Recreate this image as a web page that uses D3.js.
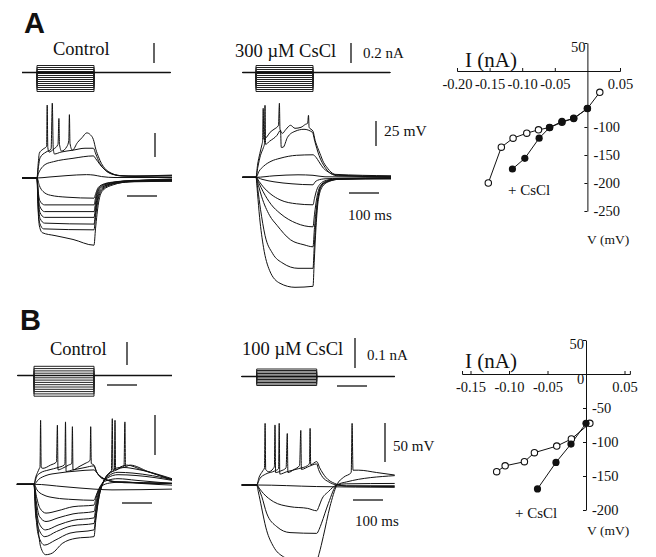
<!DOCTYPE html>
<html>
<head>
<meta charset="utf-8">
<script src="https://cdn.jsdelivr.net/npm/d3@7"></script>
<style>
  body { margin: 0; background: #fff; }
  text { font-family: "Liberation Serif", "Times New Roman", serif; fill: #111; }
  .panel-letter { font-family: "Liberation Sans", Arial, sans-serif; font-weight: bold; }
  .axis path, .axis line { stroke: #111; stroke-width: 1; }
  .axis text { font-family: "Liberation Serif", serif; font-size: 14.5px; }
</style>
</head>
<body>
<div id="fig"></div>
<script>
// ---------- data ----------
// current steps (nA)
var stepsA = [0.07, 0.05, 0.03, 0.01, -0.01, -0.03, -0.05, -0.07, -0.09, -0.11, -0.13, -0.15, -0.17, -0.19];
var stepsB_ctrl = [0.04, 0.03, 0.02, 0.01, -0.01, -0.02, -0.03, -0.04, -0.05, -0.06, -0.07, -0.08, -0.09];
var stepsB_cs = [0.025, 0.02, 0.015, 0.01, 0.005, -0.005, -0.01, -0.015, -0.02, -0.025, -0.03];
var stepDurA = 190, stepDurB = 200;   // ms

// voltage traces: [time ms from step onset, deflection mV from rest]
var tracesA_ctrl = [
  [[-50,0],[0,0],[8,-8],[20,-14],[45,-18],[100,-20],[190,-21],[196,-16],[204,-10],[225,-6],[260,-4],[320,-2.5],[450,-2]],
  [[-50,0],[0,0],[4,-14],[10,-24],[25,-28],[190,-28],[195,-21],[202,-13],[215,-8],[245,-5],[310,-3],[450,-1.5]],
  [[-50,0],[0,0],[4,-18],[10,-30],[25,-35],[190,-35],[195,-26],[202,-15],[215,-9],[245,-5.5],[310,-3],[450,-2.5]],
  [[-50,0],[0,0],[4,-21],[10,-36],[25,-41],[190,-41],[195,-31],[203,-17],[216,-10],[248,-6],[310,-3.5],[450,-1]],
  [[-50,0],[0,0],[4,-24],[10,-42],[25,-47],[190,-48],[195,-36],[203,-20],[217,-11],[250,-6],[310,-3.5],[450,-3]],
  [[-50,0],[0,0],[3,-25],[9,-47],[22,-53],[190,-54],[195,-41],[204,-22],[218,-12],[252,-6.5],[310,-4],[450,-2]],
  [[-50,0],[0,0],[3,-28],[8,-50],[18,-57],[60,-60],[120,-64],[190,-70],[195,-53],[205,-26],[219,-13],[255,-7],[310,-4],[450,-3.5]],
  [[-50,0],[0,0],[40,1],[100,2.5],[165,3.5],[190,3],[215,1.5],[260,0.5],[450,0.5]],
  [[-50,0],[0,0],[5,5],[12,9],[27,14],[55,17],[120,20.5],[188,23],[196,20],[210,14],[228,8],[245,5],[277,2.5],[330,1.5],[450,1]],
  [[-50,0],[0,0],[4,15],[8,26],[20,30],[32,33],[34,76],[36,32],[40,27],[55,30],[70,35],[73,62],[75,35],[82,28],[100,33],[106,39],[108,66],[110,36],[118,29],[135,37],[150,42],[166,47],[178,45],[188,40],[196,30],[205,22],[215,15],[226,10],[248,5],[277,2.5],[330,2],[450,2.5]],
  [[-50,0],[0,0],[5,12],[10,21],[30,27],[47,30],[51,78],[54,32],[58,25],[80,27],[120,29],[160,31],[188,31],[196,25],[208,16],[225,9],[250,4],[290,2],[450,3]]
];
var tracesA_cs = [
  [[-45,0],[0,0],[20,-2],[60,-4.5],[120,-6.5],[190,-7.5],[196,-5],[205,-3],[230,-1.5],[280,-1],[450,-0.5]],
  [[-45,0],[0,0],[10,-4],[24,-9.5],[50,-17],[80,-22.5],[135,-26.5],[190,-27.5],[195,-21],[202,-13],[213,-7],[235,-3],[270,-1.5],[450,-1]],
  [[-45,0],[0,0],[10,-6],[24,-14.5],[50,-27],[80,-36],[135,-46],[190,-49.5],[195,-37],[203,-20],[214,-9],[237,-3.5],[270,-1.5],[450,-1.5]],
  [[-45,0],[0,0],[8,-8],[19,-19.5],[45,-38],[70,-48],[115,-62.5],[160,-67.5],[190,-69.5],[195,-50],[204,-25],[215,-10],[238,-4],[272,-2],[450,-0.5]],
  [[-45,0],[0,0],[6,-12],[15,-32],[30,-58],[55,-76],[90,-86],[140,-91],[190,-91],[194,-70],[200,-42],[208,-18],[220,-8],[242,-4],[275,-2],[450,-1]],
  [[-45,0],[0,0],[5,-16],[12,-40],[25,-70],[45,-93],[80,-106],[130,-110],[190,-109],[194,-85],[200,-50],[208,-22],[222,-9],[245,-4],[278,-2],[450,-1.5]],
  [[-45,0],[0,0],[60,1.5],[140,2.5],[190,2],[230,0.5],[450,0.3]],
  [[-45,0],[0,0],[10,6],[25,11],[50,16],[80,19],[135,22],[190,22.5],[200,20],[210,15.5],[225,9],[240,5.5],[270,1.5],[450,0.5]],
  [[-45,0],[0,0],[5,12],[13,24],[20,33],[22,36],[24,69],[26,38],[35,40],[47,45],[60,48],[75,52],[78,74],[80,48],[88,44],[100,48],[115,52],[130,49],[150,50],[165,53],[172,54],[175,62],[177,50],[190,46],[197,37],[205,30],[213,24],[225,15],[235,10.5],[255,4],[275,2],[450,1]],
  [[-45,0],[0,0],[6,10],[15,22],[25,30],[28,33],[30,72],[32,33],[45,36],[70,42],[82,47],[84,30],[90,30],[105,40],[130,46],[160,48],[188,45],[196,36],[210,22],[230,10],[260,3],[450,1.5]]
];
var tracesB_ctrl = [
  [[-57,0],[0,0],[100,-3],[200,-6],[260,-7],[460,-6]],
  [[-57,0],[0,0],[10,-7],[30,-13],[70,-17],[130,-19],[200,-20],[207,-14],[215,-7],[230,-1],[260,2],[300,3],[360,1],[460,-1]],
  [[-57,0],[0,0],[8,-15],[20,-30],[40,-36],[80,-33],[130,-28],[200,-26],[206,-18],[214,-8],[225,0],[245,5],[280,7],[340,5],[460,1]],
  [[-57,0],[0,0],[7,-20],[18,-40],[40,-46.5],[80,-42],[130,-37],[200,-34],[206,-24],[214,-11],[226,0],[245,8],[280,12],[340,11],[460,5]],
  [[-57,0],[0,0],[6,-24],[16,-48],[38,-57],[80,-51],[130,-45],[200,-42],[206,-30],[215,-13],[227,0],[247,10],[280,15],[330,14],[460,6]],
  [[-57,0],[0,0],[6,-28],[15,-55],[36,-65.5],[75,-59],[125,-52],[200,-49],[206,-35],[215,-15],[228,0],[248,12],[275,18],[300,21],[340,19],[460,7]],
  [[-57,0],[0,0],[5,-32],[14,-63],[35,-76],[70,-70],[120,-61],[200,-57],[206,-41],[216,-17],[228,0],[250,14],[268,18],[270,80],[272,18],[290,22],[310,24],[360,18],[460,6]],
  [[-57,0],[0,0],[5,-36],[11,-49],[22,-78],[39,-88],[61,-86],[94,-74],[140,-67.5],[200,-65.4],[206,-45],[217,-15.4],[228,0],[244,11.6],[258,17],[261,82],[263,18],[272,20],[300,22],[303,78],[305,22],[320,24],[380,16],[460,5.4]],
  [[-57,0],[0,0],[15,6],[40,11],[80,14],[140,16.5],[200,18],[210,14],[225,9],[245,5],[280,3],[460,1]],
  [[-57,0],[0,0],[5,8],[12,15],[18,20],[20,22],[22,80],[24,21],[30,20],[55,24],[75,28],[78,74],[80,18],[95,20],[115,24],[126,26],[128,72],[130,18],[150,22],[170,26],[187,30],[189,72],[191,26],[200,24],[208,16],[218,10],[235,6],[260,4],[300,2],[460,1]],
  [[-57,0],[0,0],[8,9],[20,14],[50,18],[80,21],[100,24],[103,26],[105,78],[107,16],[130,18],[170,21],[200,23],[208,16],[220,10],[240,6],[270,3],[460,1.5]]
];
var tracesB_cs = [
  [[-50,0],[0,0],[200,-2],[460,-3]],
  [[-50,0],[0,0],[10,-5],[22,-10.7],[56,-21.4],[111,-27.8],[170,-30],[200,-33],[208,-27],[216,-19],[239,-8.5],[267,0],[300,1.5],[460,2]],
  [[-50,0],[0,0],[8,-6],[17,-15],[33,-36],[67,-53.4],[111,-61],[200,-62],[208,-57],[216,-49],[239,-23.5],[267,0],[300,4],[460,12]],
  [[-50,0],[0,0],[5,-8],[11,-19],[33,-58],[56,-79],[89,-92],[130,-97],[200,-97],[208,-88],[222,-66],[244,-28],[267,0],[290,10],[315,16],[318,79],[321,19],[340,19],[400,16],[460,12.8]],
  [[-50,0],[0,0],[8,10],[20,18],[26,22],[28,79],[30,20],[40,17],[55,21],[59,24],[61,77],[63,16],[80,18],[98,22],[102,66],[104,16],[125,20],[143,25],[147,70],[149,20],[175,24],[200,27],[206,20],[220,10],[240,4],[267,0],[300,-1],[460,-1]],
  [[-50,0],[0,0],[10,8],[30,14],[60,18],[73,21],[75,79],[77,14],[100,17],[140,21],[170,25],[176,28],[178,72.6],[180,26],[200,30],[210,22],[230,10],[260,2],[300,-1.5],[460,-2]]
];

// I-V relations: [current nA, membrane potential mV]
var ivA_ctrl = [[0.019,-38],[0,-67],[-0.021,-84.5],[-0.039,-91.6],[-0.058,-101],[-0.075,-105],[-0.093,-111],[-0.114,-120],[-0.132,-136],[-0.152,-200]];
var ivA_cs = [[0,-67],[-0.021,-85],[-0.039,-90],[-0.058,-101],[-0.074,-120],[-0.096,-156],[-0.115,-175]];
var ivB_ctrl = [[0.005,-72.5],[-0.019,-95.6],[-0.038,-106],[-0.067,-115.7],[-0.080,-129],[-0.105,-135],[-0.116,-143.7]];
var ivB_cs = [[0,-72.5],[-0.0195,-103],[-0.039,-130],[-0.063,-169]];

var ivA_xticks = [-0.20, -0.15, -0.10, -0.05, 0.05];
var ivA_yticks = [50, -100, -150, -200, -250];
var ivB_xticks = [-0.15, -0.10, -0.05, 0.05];
var ivB_yticks = [50, -50, -100, -150, -200];

// ---------- drawing ----------
var svg = d3.select("#fig").append("svg")
    .attr("width", 656)
    .attr("height", 557);
svg.append("rect").attr("width", 656).attr("height", 557).attr("fill", "#fff");

function label(x, y, txt, size, cls) {
  return svg.append("text").attr("x", x).attr("y", y)
    .attr("class", cls || null)
    .style("font-size", size + "px")
    .text(txt);
}

function vBar(x, y0, y1) {
  svg.append("line").attr("x1", x).attr("x2", x).attr("y1", y0).attr("y2", y1)
    .attr("stroke", "#111").attr("stroke-width", 1.3);
}
function hBar(x0, x1, y) {
  svg.append("line").attr("x1", x0).attr("x2", x1).attr("y1", y).attr("y2", y)
    .attr("stroke", "#111").attr("stroke-width", 1.3);
}

// one recording: current steps on top, voltage responses below
function drawRecording(p) {
  var tx = d3.scaleLinear().domain([0, 100]).range([p.onset, p.onset + 30]);
  var cy = d3.scaleLinear().domain([0, p.iRef]).range([p.iBase, p.iBase - p.iRefPx]);
  var vy = d3.scaleLinear().domain([0, p.vRef]).range([p.vBase, p.vBase - p.vRefPx]);

  // current steps
  var g1 = svg.append("g");
  g1.selectAll("path")
    .data(p.steps)
    .enter()
    .append("path")
      .attr("d", function(I) {
        return d3.line()([[tx(p.t0), cy(0)], [tx(0), cy(0)], [tx(0), cy(I)],
                          [tx(p.dur), cy(I)], [tx(p.dur), cy(0)], [tx(p.t1), cy(0)]]);
      })
      .attr("fill", "none")
      .attr("stroke", "#222")
      .attr("stroke-width", 1);
  g1.append("line")
    .attr("x1", tx(p.t0)).attr("x2", tx(p.t1))
    .attr("y1", cy(0)).attr("y2", cy(0))
    .attr("stroke", "#111").attr("stroke-width", 1.6);

  // voltage traces
  var line = d3.line()
    .x(function(d) { return tx(d[0]); })
    .y(function(d) { return vy(d[1]); })
    .curve(d3.curveMonotoneX);
  svg.append("g").selectAll("path")
    .data(p.traces)
    .enter()
    .append("path")
      .attr("d", line)
      .attr("fill", "none")
      .attr("stroke", "#111")
      .attr("stroke-width", 1);

  // scale bars
  var curLen = cy(0) - cy(p.iRef);
  var vLen = vy(0) - vy(p.vRef);
  var tLen = tx(100) - tx(0);
  vBar(p.iBar[0], p.iBar[1], p.iBar[1] + curLen);
  vBar(p.vBar[0], p.vBar[1], p.vBar[1] + vLen);
  hBar(p.tBar[0], p.tBar[0] + tLen, p.tBar[1]);
  if (p.tBar2) hBar(p.tBar2[0], p.tBar2[0] + tLen, p.tBar2[1]);
}

drawRecording({ onset: 37, t0: -50, t1: 445, dur: stepDurA, steps: stepsA,
  iBase: 72.5, iRef: 0.2, iRefPx: 20, vBase: 178, vRef: 25, vRefPx: 24,
  traces: tracesA_ctrl, iBar: [154, 43], vBar: [155, 133], tBar: [127, 196] });
drawRecording({ onset: 256, t0: -45, t1: 447, dur: stepDurA, steps: stepsA,
  iBase: 72.5, iRef: 0.2, iRefPx: 20, vBase: 177.3, vRef: 25, vRefPx: 25,
  traces: tracesA_cs, iBar: [351, 43], vBar: [376, 121], tBar: [349, 193] });
drawRecording({ onset: 34, t0: -55, t1: 460, dur: stepDurB, steps: stepsB_ctrl,
  iBase: 375.5, iRef: 0.1, iRefPx: 23, vBase: 484.3, vRef: 50, vRefPx: 40,
  traces: tracesB_ctrl, iBar: [127, 342], vBar: [155, 415], tBar: [107, 385], tBar2: [122, 503] });
drawRecording({ onset: 256.7, t0: -50, t1: 460, dur: stepDurB, steps: stepsB_cs,
  iBase: 376.5, iRef: 0.1, iRefPx: 30, vBase: 485, vRef: 50, vRefPx: 39,
  traces: tracesB_cs, iBar: [355, 338], vBar: [385, 423], tBar: [337, 386], tBar2: [353, 500] });

// panel letters and titles
label(24, 33, "A", 29, "panel-letter");
label(20, 330, "B", 29, "panel-letter");
label(53, 55, "Control", 18.5);
label(235, 57, "300 \u00b5M CsCl", 18.5);
label(363, 58, "0.2 nA", 15);
label(384, 136, "25 mV", 15.5);
label(348, 220, "100 ms", 15);
label(50, 355, "Control", 18.5);
label(242, 355, "100 \u00b5M CsCl", 18.5);
label(367, 360, "0.1 nA", 15);
label(393, 451, "50 mV", 15);
label(355, 526, "100 ms", 15);

// I-V plots
function drawIV(p) {
  var x = d3.scaleLinear().domain(p.xDomain).range(p.xRange);
  var y = d3.scaleLinear().domain(p.yDomain).range(p.yRange);

  var gx = svg.append("g")
    .attr("class", "axis")
    .attr("transform", "translate(0," + y(0) + ")")
    .call(d3.axisBottom(x).tickValues(p.xticks).tickSizeInner(-3).tickSizeOuter(-3)
      .tickFormat(function(d) { return d.toFixed(2); }));
  gx.selectAll("text").attr("y", 8);

  var gy = svg.append("g")
    .attr("class", "axis")
    .attr("transform", "translate(" + x(0) + ",0)")
    .call(d3.axisRight(y).tickValues(p.yticks).tickSizeInner(-3).tickSizeOuter(0)
      .tickFormat(function(d) { return String(d); }));
  gy.selectAll("text").attr("x", 6);
  gy.selectAll(".tick").filter(function(d) { return d > 0; })
    .select("text").attr("x", -2).attr("text-anchor", "end").attr("dy", "0.6em");

  var line = d3.line()
    .x(function(d) { return x(d[0]); })
    .y(function(d) { return y(d[1]); });

  svg.append("path").datum(p.ctrl).attr("d", line)
    .attr("fill", "none").attr("stroke", "#111").attr("stroke-width", 1);
  svg.append("path").datum(p.cs).attr("d", line)
    .attr("fill", "none").attr("stroke", "#111").attr("stroke-width", 1);

  svg.append("g").selectAll("circle")
    .data(p.ctrl)
    .enter()
    .append("circle")
      .attr("cx", function(d) { return x(d[0]); })
      .attr("cy", function(d) { return y(d[1]); })
      .attr("r", 3.2)
      .attr("fill", "#fff")
      .attr("stroke", "#111")
      .attr("stroke-width", 1.1);
  svg.append("g").selectAll("circle")
    .data(p.cs)
    .enter()
    .append("circle")
      .attr("cx", function(d) { return x(d[0]); })
      .attr("cy", function(d) { return y(d[1]); })
      .attr("r", 3.6)
      .attr("fill", "#111");

  label(p.ilab[0], p.ilab[1], "I (nA)", 21);
  label(p.vlab[0], p.vlab[1], "V (mV)", 13.5);
  label(p.cslab[0], p.cslab[1], "+ CsCl", 15);
  return { x: x, y: y };
}

drawIV({ xDomain: [-0.2, 0.05], xRange: [457, 620], yDomain: [50, -250], yRange: [43, 211],
  xticks: ivA_xticks, yticks: ivA_yticks, ctrl: ivA_ctrl, cs: ivA_cs,
  ilab: [465, 67], vlab: [587, 244], cslab: [508, 195] });
var ivB = drawIV({ xDomain: [-0.161, 0.057], xRange: [586 - 0.161 * 770, 586 + 0.057 * 770],
  yDomain: [50, -200], yRange: [340, 510],
  xticks: ivB_xticks, yticks: ivB_yticks, ctrl: ivB_ctrl, cs: ivB_cs,
  ilab: [465, 368], vlab: [587, 535], cslab: [515, 518] });
label(ivB.x(0) - 9, ivB.y(0) + 10, "0", 14.5);
</script>
</body>
</html>
